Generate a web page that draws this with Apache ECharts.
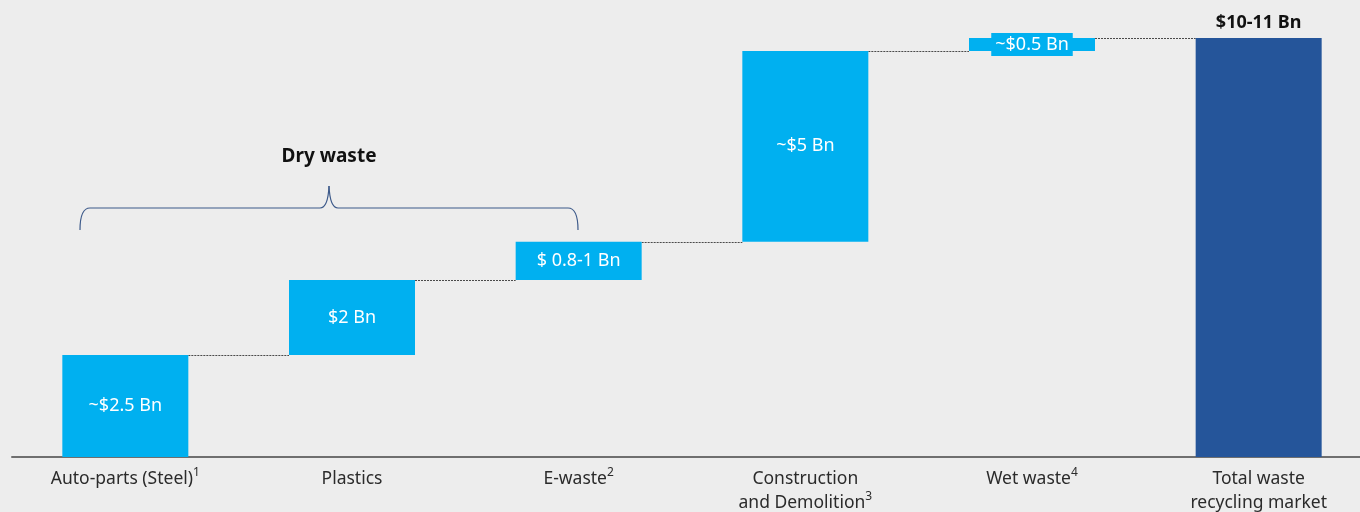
<!DOCTYPE html>
<html>
<head>
<meta charset="utf-8">
<script src="https://cdn.jsdelivr.net/npm/echarts@6/dist/echarts.min.js"></script>
<style>
html,body{margin:0;padding:0;background:#EDEDED;}
#c{width:1360px;height:512px;}
</style>
</head>
<body>
<div id="c"></div>
<script>
var categories = ['Auto-parts (Steel)', 'Plastics', 'E-waste', 'Construction\nand Demolition', 'Wet waste', 'Total waste\nrecycling market'];
var footnotes = ['1', '', '2', '3', '4', ''];
var values = [2.68, 1.97, 1.0, 5.01, 0.34, 11.0];
var valueLabels = ['~$2.5 Bn', '$2 Bn', '$ 0.8-1 Bn', '~$5 Bn', '~$0.5 Bn', '$10-11 Bn'];
var isTotal = [false, false, false, false, false, true];

var bases = [], cum = 0, connectors = [];
for (var i = 0; i < values.length; i++) {
  if (isTotal[i]) { bases.push(0); }
  else { bases.push(cum); cum += values[i]; connectors.push([i, cum]); }
}

var FONT = 'Noto Sans';
var LIGHT = '#00B0F0', DARK = '#25559A';
var HALF = 63;
var BRACE = {fill: 'none', stroke: '#3d5a8a', lineWidth: 1.2};

var chart = echarts.init(document.getElementById('c'));
chart.setOption({
  backgroundColor: '#EDEDED',
  animation: false,
  grid: {left: 12, width: 1360, top: 38, bottom: 55, outerBoundsMode: 'none', containLabel: false},
  xAxis: {
    type: 'category',
    data: categories,
    axisTick: {show: false},
    axisLine: {lineStyle: {color: '#6f6f6f', width: 2}},
    axisLabel: {
      interval: 0, margin: 10, color: '#2b2b2b', fontFamily: FONT, fontSize: 17.5, lineHeight: 24,
      formatter: function (v, idx) {
        var fn = footnotes[idx];
        return fn ? v + '{sup|' + fn + '}' : v;
      },
      rich: {sup: {fontSize: 12, fontFamily: FONT, color: '#2b2b2b', verticalAlign: 'top', lineHeight: 24, padding: [0, 0, 8, 0]}}
    }
  },
  yAxis: {type: 'value', min: 0, max: 11, show: false, splitLine: {show: false}},
  series: [
    {
      type: 'bar', stack: 'w', barWidth: 126, silent: true,
      itemStyle: {color: 'rgba(0,0,0,0)'},
      data: bases
    },
    {
      type: 'bar', stack: 'w', barWidth: 126,
      data: values.map(function (v, i) {
        var d = {value: v, itemStyle: {color: isTotal[i] ? DARK : LIGHT}};
        if (isTotal[i]) {
          d.label = {position: 'top', distance: 6, color: '#111', fontWeight: 'bold', fontSize: 18};
        } else if (v < 0.6) {
          d.label = {backgroundColor: LIGHT, padding: [3, 4, 2, 4]};
        }
        return d;
      }),
      label: {
        show: true, position: 'inside', color: '#ffffff', fontFamily: FONT, fontSize: 18,
        formatter: function (p) { return valueLabels[p.dataIndex]; }
      }
    },
    {
      type: 'custom', silent: true, z: 1,
      data: connectors,
      renderItem: function (params, api) {
        var a = api.coord([api.value(0), api.value(1)]);
        var b = api.coord([api.value(0) + 1, api.value(1)]);
        return {
          type: 'line',
          shape: {x1: a[0] + HALF, y1: Math.round(a[1]) + 0.5, x2: b[0] - HALF, y2: Math.round(a[1]) + 0.5},
          style: {stroke: '#4a4a4a', lineWidth: 1, lineDash: [2, 1]}
        };
      }
    }
  ],
  graphic: [
    {type: 'bezierCurve', shape: {x1: 80, y1: 230, cpx1: 80, cpy1: 208, x2: 90, y2: 208}, style: BRACE},
    {type: 'line', shape: {x1: 90, y1: 208, x2: 320, y2: 208}, style: BRACE},
    {type: 'bezierCurve', shape: {x1: 320, y1: 208, cpx1: 328, cpy1: 208, x2: 329, y2: 186}, style: BRACE},
    {type: 'bezierCurve', shape: {x1: 329, y1: 186, cpx1: 330, cpy1: 208, x2: 338, y2: 208}, style: BRACE},
    {type: 'line', shape: {x1: 338, y1: 208, x2: 568, y2: 208}, style: BRACE},
    {type: 'bezierCurve', shape: {x1: 568, y1: 208, cpx1: 578, cpy1: 208, x2: 578, y2: 230}, style: BRACE},
    {
      type: 'text', x: 329, y: 157,
      style: {text: 'Dry waste', fontFamily: FONT, fontSize: 19, fontWeight: 'bold', fill: '#111', align: 'center', verticalAlign: 'middle'}
    }
  ]
});
</script>
</body>
</html>
